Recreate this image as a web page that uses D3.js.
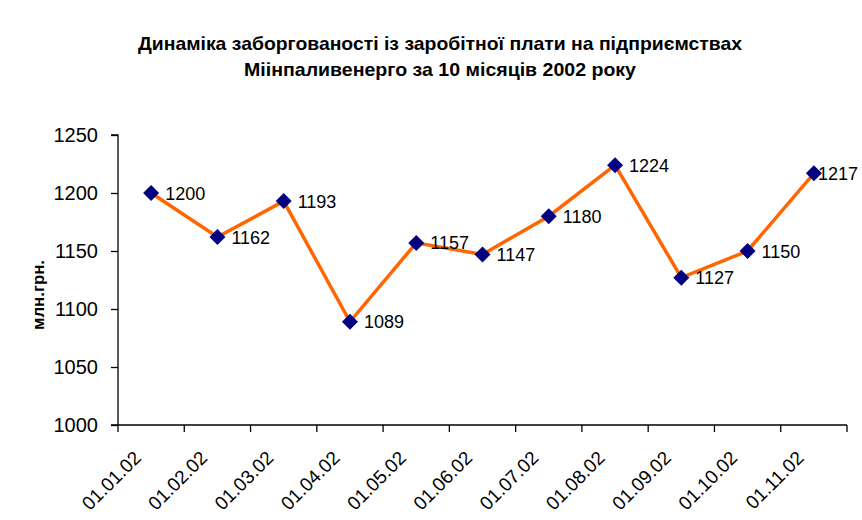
<!DOCTYPE html>
<html><head><meta charset="utf-8">
<script src="https://cdn.jsdelivr.net/npm/d3@7"></script>
<style>body{margin:0;background:#fff}svg{display:block}</style>
</head><body>
<svg id="c" width="862" height="520"></svg>
<script>
const categories = ["01.01.02","01.02.02","01.03.02","01.04.02","01.05.02","01.06.02","01.07.02","01.08.02","01.09.02","01.10.02","01.11.02"];
const values = [1200,1162,1193,1089,1157,1147,1180,1224,1127,1150,1217];
const yTicks = [1000,1050,1100,1150,1200,1250];
const titleLines = ["Динаміка заборгованості із заробітної плати на підприємствах","Міінпаливенерго за 10 місяців 2002 року"];
const yTitle = "млн.грн.";

(function(){
const svg = d3.select("#c");
const pL = 118, pR = 847, pT = 135, pB = 425;
const x = d3.scaleBand().domain(categories).range([pL, pR]);
const y = d3.scaleLinear().domain([1000,1250]).range([pB, pT]);
const font = "'Liberation Sans', Arial, sans-serif";

// title
const tw = [604, 392], tb = [50, 76];
titleLines.forEach((t,i)=>{
  svg.append("text").attr("x",440).attr("y",tb[i]).attr("text-anchor","middle")
    .attr("font-family","'Liberation Sans Narrow', 'Liberation Sans', Arial, sans-serif")
    .attr("font-weight","bold").attr("font-size",19)
    .attr("textLength",tw[i]).attr("lengthAdjust","spacingAndGlyphs")
    .text(t);
});

// y axis
const ya = svg.append("g").attr("transform",`translate(${pL},0)`)
  .call(d3.axisLeft(y).tickValues(yTicks).tickSize(7).tickPadding(13).tickFormat(d3.format("d")));
ya.select(".domain").attr("stroke","#000").attr("stroke-width",1.3).attr("d",`M-7,${pT}H0V${pB}H-7`);
ya.selectAll(".tick line").attr("stroke","#000").attr("stroke-width",1.3);
ya.selectAll("text").attr("font-family",font).attr("font-size",20).attr("fill","#000");

// x axis
const xa = svg.append("g").attr("transform",`translate(0,${pB})`);
xa.append("path").attr("d",`M${pL},0H${pR}`).attr("stroke","#000").attr("stroke-width",1.3).attr("fill","none");
const edges = categories.map(c=>x(c)).concat([x(categories[categories.length-1])+x.bandwidth()]);
xa.selectAll("line.t").data(edges).enter().append("line")
  .attr("x1",d=>d).attr("x2",d=>d).attr("y1",0).attr("y2",7).attr("stroke","#000").attr("stroke-width",1.3);
xa.selectAll("text").data(categories).enter().append("text")
  .attr("transform",d=>`translate(${x(d)+x.bandwidth()/2-9},34) rotate(-45)`)
  .attr("text-anchor","end").attr("font-family",font).attr("font-size",19).attr("fill","#000")
  .text(d=>d);

// y title
svg.append("text").attr("transform","translate(44,295) rotate(-90)").attr("text-anchor","middle")
  .attr("font-family",font).attr("font-weight","bold").attr("font-size",17)
  .attr("textLength",70).attr("lengthAdjust","spacingAndGlyphs").text(yTitle);

// line
const pts = categories.map((c,i)=>[x(c)+x.bandwidth()/2, y(values[i])]);
svg.append("path").attr("d",d3.line()(pts)).attr("fill","none").attr("stroke","#FF6600").attr("stroke-width",3.5);

// markers
svg.selectAll("path.m").data(pts).enter().append("path")
  .attr("d",d=>`M${d[0]},${d[1]-8}L${d[0]+8},${d[1]}L${d[0]},${d[1]+8}L${d[0]-8},${d[1]}Z`)
  .attr("fill","#000080");

// data labels
const labs = svg.selectAll("text.v").data(pts).enter().append("text")
  .attr("font-family",font).attr("font-size",18).attr("fill","#000")
  .attr("y",d=>d[1]+6.5).text((d,i)=>values[i]);
labs.attr("x",function(d){const w=this.getComputedTextLength(); return Math.min(d[0]+14, 858-w);});
})();
</script>
</body></html>
